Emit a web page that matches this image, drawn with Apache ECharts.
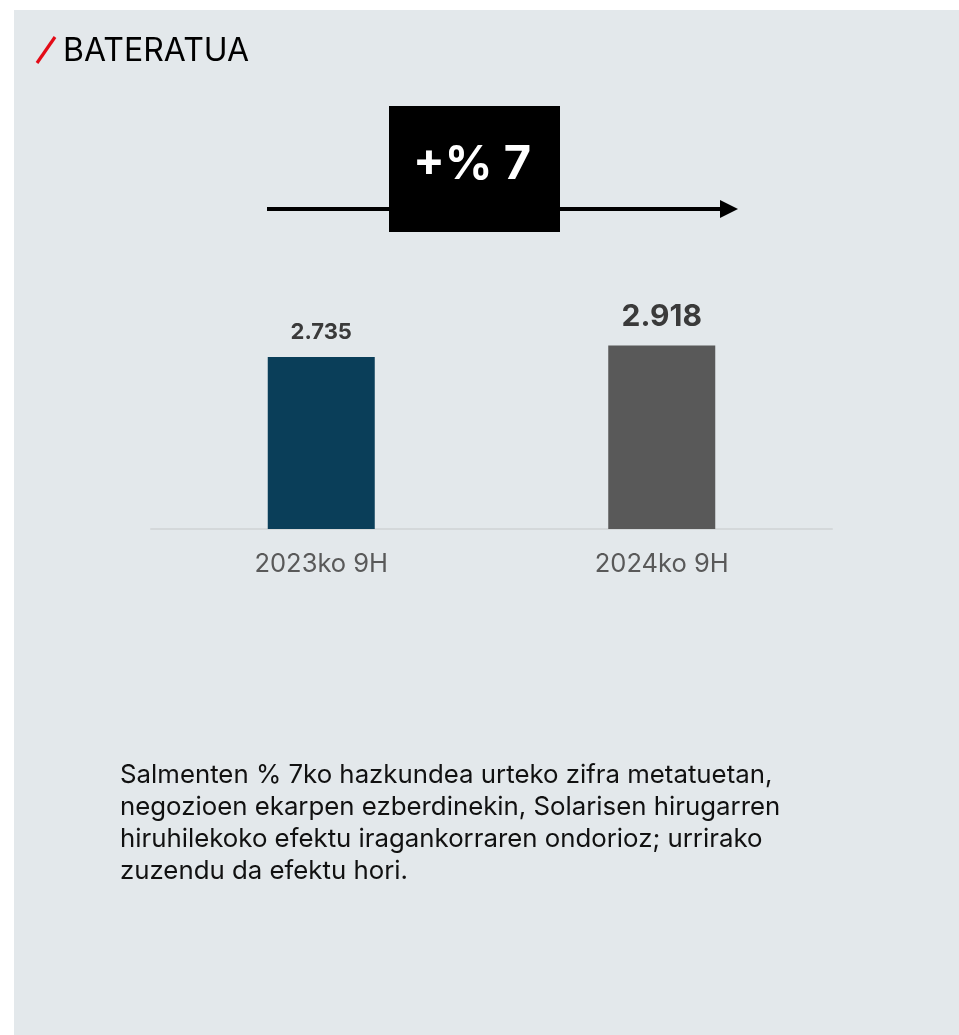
<!DOCTYPE html>
<html>
<head>
<meta charset="utf-8">
<script src="https://cdn.jsdelivr.net/npm/echarts@6/dist/echarts.min.js"></script>
<style>
html,body{margin:0;padding:0;background:#ffffff;}
#chart{width:959px;height:1035px;}
</style>
</head>
<body>
<div id="chart"></div>
<script>
const categories = ['2023ko 9H', '2024ko 9H'];
const salesValues = [2735, 2918];
const barColors = ['#0a3e59', '#595959'];
const labelSizes = [22, 30];
const titleText = 'BATERATUA';
const noteLines = [
  'Salmenten % 7ko hazkundea urteko zifra metatuetan,',
  'negozioen ekarpen ezberdinekin, Solarisen hirugarren',
  'hiruhilekoko efektu iragankorraren ondorioz; urrirako',
  'zuzendu da efektu hori.'
];
const growthPct = Math.round((salesValues[1] / salesValues[0] - 1) * 100);
const growthText = '+% ' + growthPct;

const FONT = 'Inter, "Noto Sans", sans-serif';

function fmt(v) {
  return String(v).replace(/\B(?=(\d{3})+(?!\d))/g, '.');
}

const chart = echarts.init(document.getElementById('chart'), null, {renderer: 'canvas'});
chart.setOption({
  backgroundColor: '#ffffff',
  animation: false,
  grid: {left: 151, right: 127, top: 309, bottom: 506},
  xAxis: {
    type: 'category',
    data: categories,
    axisLine: {show: true, lineStyle: {color: '#d4d8da', width: 2}},
    axisTick: {show: false},
    axisLabel: {fontSize: 25.5, color: '#595959', fontFamily: FONT, margin: 22}
  },
  yAxis: {
    type: 'value', min: 0, max: 3500, show: false,
    splitLine: {show: false}
  },
  series: [{
    type: 'bar',
    barWidth: 107,
    data: salesValues.map((v, i) => ({
      value: v,
      itemStyle: {color: barColors[i]},
      label: {
        show: true, position: 'top', distance: 14,
        fontSize: labelSizes[i], fontWeight: 'bold', color: '#3a3a3a', fontFamily: FONT,
        formatter: p => fmt(p.value)
      }
    }))
  }],
  graphic: [
    {type: 'rect', z: -10, shape: {x: 14, y: 10, width: 945, height: 1025}, style: {fill: '#e3e8eb'}},
    {type: 'line', shape: {x1: 37, y1: 63, x2: 55, y2: 37}, style: {stroke: '#e30b17', lineWidth: 3.2}},
    {type: 'text', x: 63, y: 51, style: {text: titleText, fontSize: 32, fontFamily: FONT, fill: '#000000', verticalAlign: 'middle', align: 'left'}},
    {type: 'line', shape: {x1: 267, y1: 209, x2: 722, y2: 209}, style: {stroke: '#000000', lineWidth: 4}},
    {type: 'polygon', shape: {points: [[720, 200], [738, 209], [720, 218]]}, style: {fill: '#000000'}},
    {type: 'rect', shape: {x: 389, y: 106, width: 171, height: 126}, style: {fill: '#000000'}},
    {type: 'text', x: 472, y: 165, style: {text: growthText, fontSize: 47, fontWeight: 'bold', fontFamily: FONT, fill: '#ffffff', align: 'center', verticalAlign: 'middle'}},
    {type: 'text', x: 120, y: 759, style: {text: noteLines.join('\n'), fontSize: 25.8, lineHeight: 32, fontFamily: FONT, fill: '#111111', align: 'left', verticalAlign: 'top'}}
  ]
});
</script>
</body>
</html>
